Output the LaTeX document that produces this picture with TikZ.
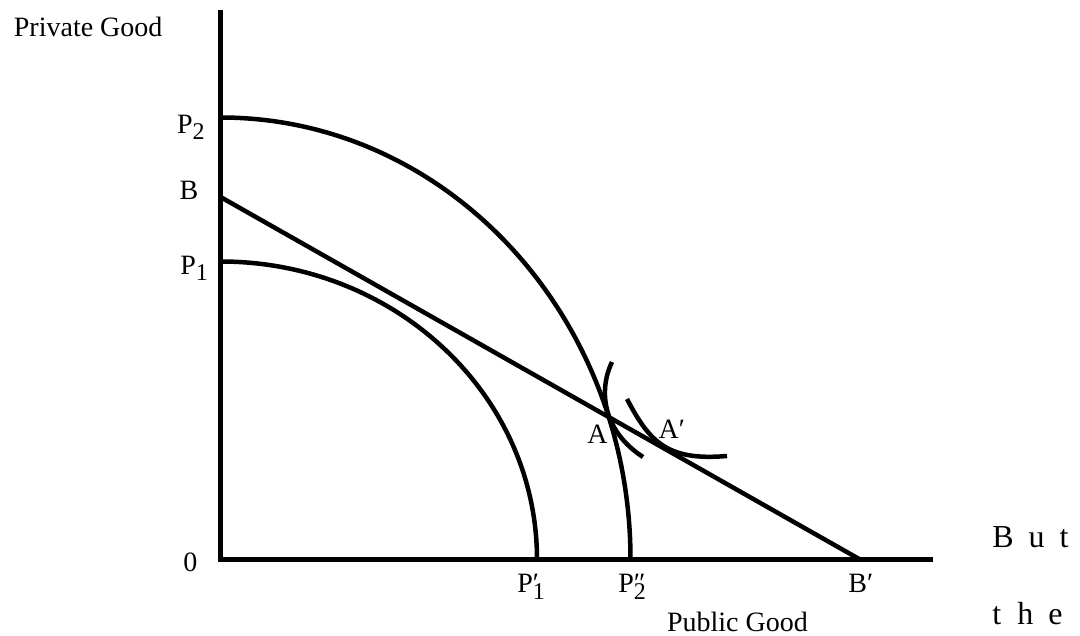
\documentclass[tikz,border=0pt]{standalone}
\usepackage{fontspec}
\setmainfont{Liberation Serif}
\usepackage{tikz}
\usetikzlibrary{positioning}

\newcommand{\subpos}[1]{\raisebox{-3.3pt}{\fontsize{12}{14}\selectfont #1}}

\begin{document}
\begin{tikzpicture}[x=0.5pt,y=0.5pt,
  every node/.style={font=\fontsize{14}{17}\selectfont,inner sep=0pt,anchor=base west},
  axis/.style={line width=2.6pt},
  curve/.style={line width=2.25pt}]
  \useasboundingbox (0,0) rectangle (1080,636);
  % Axes
  \coordinate (O) at (220.5,76.5);
  \coordinate (ytop) at (220.5,626);
  \coordinate (xend) at (933,76.5);
  \draw[axis] (ytop) -- (O) -- (xend);

  % Production frontiers and budget line
  \coordinate (P2) at (220.5,518.5);
  \coordinate (P1) at (220.5,374.5);
  \coordinate (B) at (220.5,439);
  \coordinate (Bp) at (860,76.5);
  \draw[curve] (P2) arc[start angle=90,end angle=0,x radius=410,y radius=442];
  \draw[curve] (P1) arc[start angle=90,end angle=0,x radius=316.5,y radius=298];
  \draw[curve] (B) -- (Bp);

  % Indifference curves at A and A'
  \draw[curve] (612,274) .. controls (598,245) and (603,205) .. (643,179);
  \draw[curve] (627,237) .. controls (650,193) and (668,175) .. (727,180);

  % Labels
  \node (lblPrivate) at (13.5,599) {Private Good};
  \node (lblP2) at (176.7,502.7) {P\subpos{2}};
  \node (lblB) at (179.3,436) {B};
  \node (lblP1) at (180,361.7) {P\subpos{1}};
  \node (lblO) at (183,64) {0};
  \node (lblP1p) at (517,43) {P\rlap{′}\subpos{1}};
  \node (lblP2pp) at (618,43) {P\rlap{″}\subpos{2}};
  \node (lblBp) at (848,43) {B′};
  \node (lblPublic) at (666.7,4) {Public Good};
  \node (lblA) at (587,192) {A};
  \node (lblAp) at (658.3,197.7) {A′};
  \node[font=\fontsize{16}{19}\selectfont] (but) at (992,88) {B\hspace{7.5pt}u\hspace{7.5pt}t};
  \node[font=\fontsize{16}{19}\selectfont] (the) at (992,11) {t\hspace{8pt}h\hspace{7.5pt}e};
\end{tikzpicture}
\end{document}
